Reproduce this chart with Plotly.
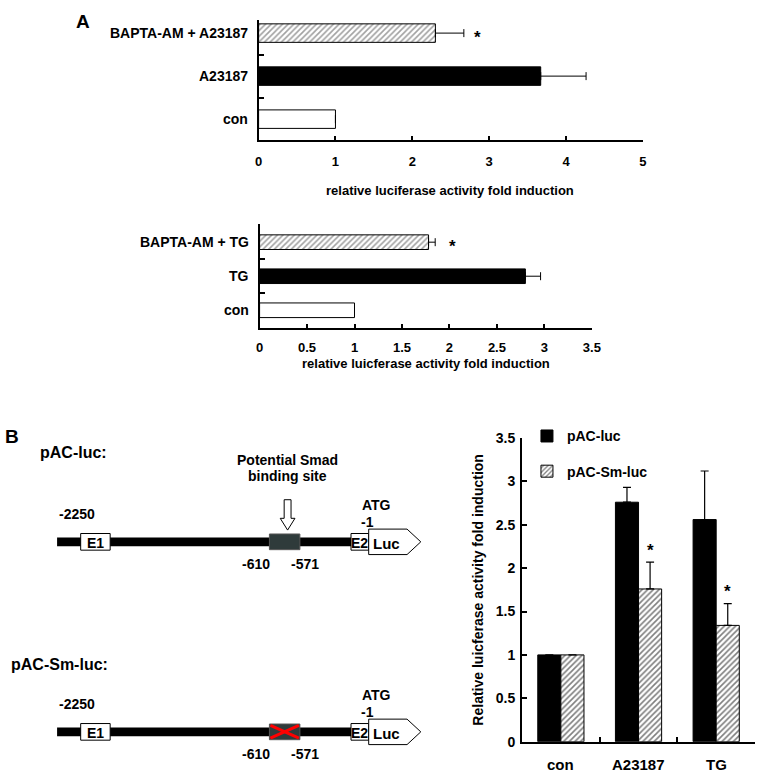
import plotly.graph_objects as go

W, H = 765, 781
FONT = "Liberation Sans, Arial, sans-serif"

# ---- data -----------------------------------------------------------------
a1_labels = ["con", "A23187", "BAPTA-AM + A23187"]
a1_values = [1.0, 3.67, 2.30]
a1_err = [None, 0.59, 0.37]

a2_labels = ["con", "TG", "BAPTA-AM + TG"]
a2_values = [1.0, 2.80, 1.78]
a2_err = [None, 0.16, 0.07]

b_groups = ["con", "A23187", "TG"]
b_luc = [1.0, 2.76, 2.56]
b_luc_err = [None, 0.17, 0.56]
b_sm = [1.0, 1.76, 1.34]
b_sm_err = [None, 0.31, 0.25]

bar_fill = ["white", "black", "white"]
bar_hatch = ["", "", "/"]


def px(x):
    return x / W


def py(y):
    return 1 - y / H


fig = go.Figure()

hatch = dict(fgcolor="black", size=4, solidity=0.4)

fig.add_trace(go.Bar(
    y=[0, 1, 2], x=a1_values, orientation="h", width=0.43, showlegend=False,
    marker=dict(color=bar_fill, line=dict(color="black", width=1),
                pattern=dict(shape=bar_hatch, **hatch)),
    error_x=dict(type="data", array=a1_err, arrayminus=[0, 0, 0], symmetric=False,
                 color="black", thickness=1, width=4),
    xaxis="x", yaxis="y", offsetgroup="a1"))

fig.add_trace(go.Bar(
    y=[0, 1, 2], x=a2_values, orientation="h", width=0.43, showlegend=False,
    marker=dict(color=bar_fill, line=dict(color="black", width=1),
                pattern=dict(shape=bar_hatch, **hatch)),
    error_x=dict(type="data", array=a2_err, arrayminus=[0, 0, 0], symmetric=False,
                 color="black", thickness=1, width=4),
    xaxis="x2", yaxis="y2", offsetgroup="a2"))

fig.add_trace(go.Bar(
    x=[0, 1, 2], y=b_luc, name="pAC-luc", legendgroup="g1",
    marker=dict(color="black", line=dict(color="black", width=1)),
    error_y=dict(type="data", array=b_luc_err, arrayminus=[0, 0, 0], symmetric=False,
                 color="black", thickness=1.2, width=4),
    xaxis="x3", yaxis="y3"))
fig.add_trace(go.Bar(
    x=[0, 1, 2], y=b_sm, name="pAC-Sm-luc", legendgroup="g2",
    marker=dict(color="white", line=dict(color="black", width=1),
                pattern=dict(shape="/", **hatch)),
    error_y=dict(type="data", array=b_sm_err, arrayminus=[0, 0, 0], symmetric=False,
                 color="black", thickness=1.2, width=4),
    xaxis="x3", yaxis="y3"))

axis_common = dict(showline=True, linecolor="black", linewidth=2, showgrid=False,
                   zeroline=False, tickcolor="black", tickwidth=1.5)
blank3 = ["", "", ""]

fig.update_layout(
    width=W, height=H, margin=dict(l=0, r=0, t=0, b=0),
    paper_bgcolor="white", plot_bgcolor="rgba(0,0,0,0)",
    font=dict(family=FONT, size=14, color="black", weight="bold"),
    barmode="group", bargap=0.405, bargroupgap=0,
    xaxis=dict(domain=[px(259), px(650)], anchor="y", range=[0, 5], dtick=1,
               ticks="inside", ticklen=4, tickfont=dict(size=13),
               ticklabelstandoff=8, **axis_common),
    yaxis=dict(domain=[py(135), py(12)], anchor="x", range=[-0.49, 2.31],
               tickvals=[0.5, 1.5, 2.31], ticktext=blank3, ticks="inside", ticklen=5,
               **axis_common),
    xaxis2=dict(domain=[px(260), px(598)], anchor="y2", range=[0, 3.5], dtick=0.5,
                ticks="inside", ticklen=4, tickfont=dict(size=13),
                ticklabelstandoff=6, **axis_common),
    yaxis2=dict(domain=[py(327), py(221)], anchor="x2", range=[-0.53, 2.52],
                tickvals=[0.5, 1.5, 2.52], ticktext=blank3, ticks="inside", ticklen=5,
                **axis_common),
    xaxis3=dict(domain=[px(527), px(764)], anchor="y3", range=[-0.5, 2.5],
                tickvals=[0.5, 1.5, 2.5], ticktext=blank3, ticks="inside", ticklen=5,
                **axis_common),
    yaxis3=dict(domain=[py(749), py(439)], anchor="x3", range=[0, 3.5], dtick=0.5,
                ticks="inside", ticklen=5, ticklabelstandoff=2, **axis_common),
    legend=dict(x=px(532), y=py(421), xanchor="left", yanchor="top",
                bgcolor="rgba(0,0,0,0)", tracegroupgap=14, font=dict(size=14),
                traceorder="grouped"),
)

ann = []


def text(x, y, s, size=14, xanchor="center", **kw):
    ann.append(dict(x=px(x), y=py(y), xref="paper", yref="paper", text=s,
                    showarrow=False, xanchor=xanchor, yanchor="middle",
                    font=dict(size=size), **kw))


# category labels
for i, lab in enumerate(a1_labels):
    ann.append(dict(x=px(250), y=i, xref="paper", yref="y", text=lab, showarrow=False,
                    xanchor="right", yanchor="middle", font=dict(size=14)))
for i, lab in enumerate(a2_labels):
    ann.append(dict(x=px(251), y=i, xref="paper", yref="y2", text=lab, showarrow=False,
                    xanchor="right", yanchor="middle", font=dict(size=14)))
for i, lab in enumerate(b_groups):
    ann.append(dict(x=i, y=py(772), xref="x3", yref="paper", text=lab, showarrow=False,
                    xanchor="center", yanchor="middle", font=dict(size=15)))

# panel letters and axis titles
text(80, 14, "A", size=19)
text(8, 437, "B", size=19)
text(454, 186, "relative luciferase activity fold induction", size=13)
text(429, 363, "relative luicferase activity fold induction", size=13)
text(482, 594, "Relative luicferase activity fold induction", size=14, textangle=-90)

# significance stars
for xr, yr, xv, yv in [("x", "y", 2.85, 2), ("x2", "y2", 2.03, 2),
                       ("x3", "y3", 1.15, 2.25), ("x3", "y3", 2.15, 1.78)]:
    ann.append(dict(x=xv, y=yv, xref=xr, yref=yr, text="*", showarrow=False,
                    font=dict(size=17), yshift=-4))

# promoter construct diagrams
shapes = []


def rect(x0, y0, x1, y1, fill, lw=1, lc="black"):
    shapes.append(dict(type="rect", xref="paper", yref="paper",
                       x0=px(x0), x1=px(x1), y0=py(y0), y1=py(y1),
                       fillcolor=fill, line=dict(color=lc, width=lw)))


def path(pts, fill, lw=1, lc="black", close=True):
    d = "M" + " L".join(f"{px(x):.5f},{py(y):.5f}" for x, y in pts) + (" Z" if close else "")
    shapes.append(dict(type="path", xref="paper", yref="paper", path=d,
                       fillcolor=fill, line=dict(color=lc, width=lw)))


text(35, 454, "pAC-luc:", size=16, xanchor="left")
text(5, 670, "pAC-Sm-luc:", size=16, xanchor="left")
text(288, 461, "Potential Smad", size=14)
text(288, 478, "binding site", size=14)

for row, yc in enumerate([545, 739]):
    rect(54, yc - 4.5, 354, yc + 4.5, "black", lw=0)
    rect(78, yc - 8.5, 108, yc + 8.5, "white")
    text(93, yc + 1, "E1", size=14)
    rect(270, yc - 8, 301, yc + 8, "#2f3b3b", lw=1, lc="#555555")
    rect(353, yc - 8.5, 371, yc + 8.5, "white")
    text(362, yc + 1, "E2", size=14)
    path([(371, yc - 13), (410, yc - 13), (424, yc), (410, yc + 13), (371, yc + 13)], "white")
    text(389, yc + 2, "Luc", size=15)
    text(74, yc - 28, "-2250", size=14)
    text(379, yc - 38, "ATG", size=14)
    text(370, yc - 20, "-1", size=14)
    text(256, yc + 23, "-610", size=14)
    text(306, yc + 23, "-571", size=14)
    if row == 1:
        path([(271, yc - 6.5), (300, yc + 6.5)], None, lw=3, lc="red", close=False)
        path([(271, yc + 6.5), (300, yc - 6.5)], None, lw=3, lc="red", close=False)

# hollow arrow pointing at the Smad site
path([(285, 502), (292, 502), (292, 521), (296, 521), (288.5, 533),
      (281, 521), (285, 521)], "white")

fig.update_layout(annotations=ann, shapes=shapes)
fig.write_html("out.html", config={"displayModeBar": False},
               post_script="document.body.style.margin='0';document.body.style.overflow='hidden';")
